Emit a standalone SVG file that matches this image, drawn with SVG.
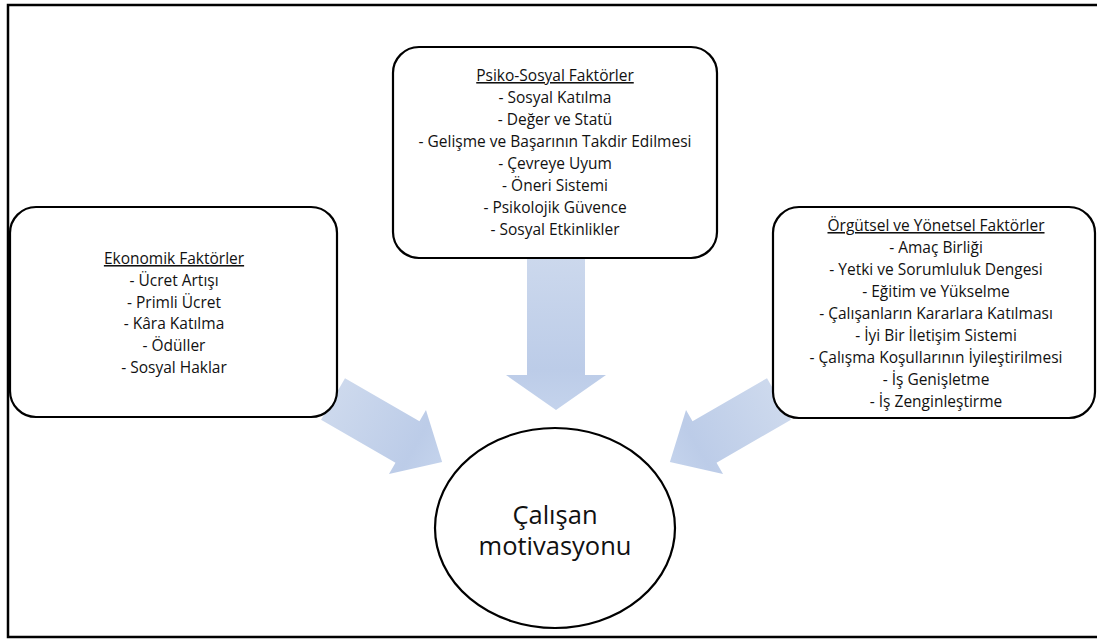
<svg xmlns="http://www.w3.org/2000/svg" width="1097" height="639" viewBox="0 0 1097 639">
<defs>
<linearGradient id="ag" x1="0" y1="0" x2="1" y2="0">
<stop offset="0" stop-color="#cdd9ed"/>
<stop offset="0.75" stop-color="#bccce8"/>
<stop offset="1" stop-color="#c4d3ec"/>
</linearGradient>
<style>
.box{fill:#fff;stroke:#000;stroke-width:2.2}
.t{font-family:"Open Sans","Liberation Sans",sans-serif;font-size:15.5px;fill:#111;text-anchor:middle}
.h{text-decoration:underline}
.c{font-family:"Open Sans","Liberation Sans",sans-serif;font-size:25.5px;fill:#111;text-anchor:middle}
.arr{fill:url(#ag)}
</style>
</defs>
<rect width="1097" height="639" fill="#fff"/>
<path d="M1100 5 H8 V637 H1100" fill="none" stroke="#000" stroke-width="2.5"/>
<g id="connectors">
<polygon class="arr" transform="translate(556,250) rotate(90)" points="0,-29 125,-29 125,-50 160,0 125,50 125,29 0,29"/>
<polygon class="arr" transform="translate(333,399) rotate(30)" points="0,-24 86,-24 86,-37 126,0 86,37 86,24 0,24"/>
<polygon class="arr" transform="translate(779,399) rotate(150)" points="0,-24 86,-24 86,-37 126,0 86,37 86,24 0,24"/>
</g>
<g id="psiko-sosyal">
<rect class="box" x="393" y="47" width="324" height="211" rx="26"/>
<text class="t" x="555" y="81"><tspan class="h">Psiko-Sosyal Faktörler</tspan></text>
<text class="t" x="555" y="103">- Sosyal Katılma</text>
<text class="t" x="555" y="125">- Değer ve Statü</text>
<text class="t" x="555" y="147">- Gelişme ve Başarının Takdir Edilmesi</text>
<text class="t" x="555" y="169">- Çevreye Uyum</text>
<text class="t" x="555" y="191">- Öneri Sistemi</text>
<text class="t" x="555" y="213">- Psikolojik Güvence</text>
<text class="t" x="555" y="235">- Sosyal Etkinlikler</text>
</g>
<g id="ekonomik">
<rect class="box" x="10" y="207" width="327" height="210" rx="26"/>
<text class="t" x="174" y="264"><tspan class="h">Ekonomik Faktörler</tspan></text>
<text class="t" x="174" y="286">- Ücret Artışı</text>
<text class="t" x="174" y="308">- Primli Ücret</text>
<text class="t" x="174" y="329">- Kâra Katılma</text>
<text class="t" x="174" y="351">- Ödüller</text>
<text class="t" x="174" y="373">- Sosyal Haklar</text>
</g>
<g id="orgutsel">
<rect class="box" x="773" y="207" width="322" height="211" rx="26"/>
<text class="t" x="936" y="231"><tspan class="h">Örgütsel ve Yönetsel Faktörler</tspan></text>
<text class="t" x="936" y="253">- Amaç Birliği</text>
<text class="t" x="936" y="275">- Yetki ve Sorumluluk Dengesi</text>
<text class="t" x="936" y="297">- Eğitim ve Yükselme</text>
<text class="t" x="936" y="319">- Çalışanların Kararlara Katılması</text>
<text class="t" x="936" y="341">- İyi Bir İletişim Sistemi</text>
<text class="t" x="936" y="363">- Çalışma Koşullarının İyileştirilmesi</text>
<text class="t" x="936" y="385">- İş Genişletme</text>
<text class="t" x="936" y="407">- İş Zenginleştirme</text>
</g>
<g id="motivasyon">
<ellipse cx="555" cy="528" rx="120" ry="100" fill="#fff" stroke="#000" stroke-width="2.2"/>
<text class="c" x="555" y="524">Çalışan</text>
<text class="c" x="555" y="555">motivasyonu</text>
</g>
</svg>
